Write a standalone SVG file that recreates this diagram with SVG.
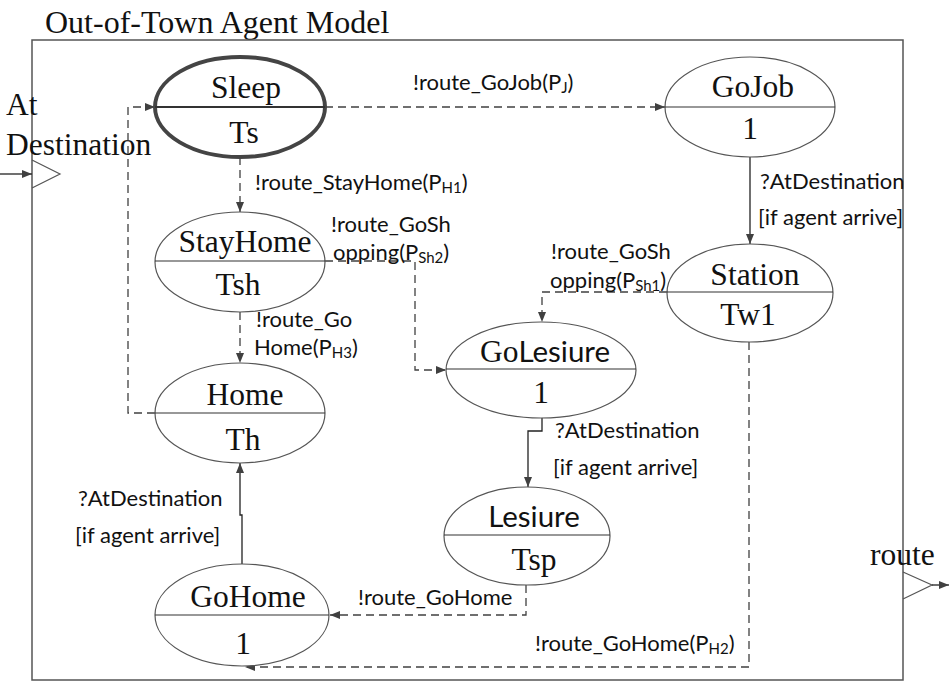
<svg xmlns="http://www.w3.org/2000/svg" width="950" height="682" viewBox="0 0 950 682">
<style>
.serif{font-family:"Liberation Serif","Times New Roman",serif;font-size:31.5px;fill:#111}
.sans{font-family:Lato,"Liberation Sans",sans-serif;font-size:22px;fill:#111}
.node{fill:#fff;stroke:#555;stroke-width:1.2}
.div{stroke:#333;stroke-width:1.2}
.dash{fill:none;stroke:#404040;stroke-width:1.3;stroke-dasharray:8 5}
.solid{fill:none;stroke:#222;stroke-width:1.3}
.sub{font-size:15px}
</style>
<defs>
<marker id="ah" markerUnits="userSpaceOnUse" markerWidth="10" markerHeight="8" refX="10" refY="4" orient="auto">
<path d="M0,0 L10,4 L0,8 z" fill="#404040"/>
</marker>
</defs>
<rect width="950" height="682" fill="#fff"/>
<text class="serif" x="45" y="33" style="font-size:32px">Out-of-Town Agent Model</text>
<rect x="32" y="40" width="871" height="640" fill="none" stroke="#555" stroke-width="1.5"/>
<g id="port-in">
<text class="serif" x="6" y="115">At</text>
<text class="serif" x="6" y="155">Destination</text>
<path d="M32,160 L60,174 L32,188" fill="none" stroke="#555" stroke-width="1.2"/>
</g>
<g id="port-out">
<text class="serif" x="870" y="565">route</text>
<path d="M903,572 L932,585 L903,599" fill="none" stroke="#555" stroke-width="1.2"/>
</g>
<g id="connectors">
<path class="solid" d="M0,174 H32" marker-end="url(#ah)"/>
<path class="solid" d="M932,585 H949" marker-end="url(#ah)"/>
<path class="dash" d="M325,107 H665" marker-end="url(#ah)"/>
<path class="dash" d="M240,157 V212" marker-end="url(#ah)"/>
<path class="dash" d="M240,312 V363" marker-end="url(#ah)"/>
<path class="dash" d="M325,261 H415 V370 H446" marker-end="url(#ah)"/>
<path class="dash" d="M155,413 H128 V107 H155" marker-end="url(#ah)"/>
<path class="solid" d="M750,157 V244" marker-end="url(#ah)"/>
<path class="dash" d="M667,292 H542 V322" marker-end="url(#ah)"/>
<path class="solid" d="M542,417 V431 H528 V487" marker-end="url(#ah)"/>
<path class="dash" d="M526,585 V615 H330" marker-end="url(#ah)"/>
<path class="dash" d="M749,342 V667 H245" marker-end="url(#ah)"/>
<path class="solid" d="M242,564 V515 H240 V463" marker-end="url(#ah)"/>
<text class="sans" x="413" y="90">!route_GoJob(P<tspan class="sub" dy="3">J</tspan><tspan dy="-3">)</tspan></text>
<text class="sans" x="255" y="190">!route_StayHome(P<tspan class="sub" dy="3">H1</tspan><tspan dy="-3">)</tspan></text>
<text class="sans" x="331" y="232">!route_GoSh</text>
<text class="sans" x="333" y="260">opping(P<tspan class="sub" dy="3">Sh2</tspan><tspan dy="-3">)</tspan></text>
<text class="sans" x="256" y="327">!route_Go</text>
<text class="sans" x="254" y="355">Home(P<tspan class="sub" dy="3">H3</tspan><tspan dy="-3">)</tspan></text>
<text class="sans" x="760" y="189">?AtDestination</text>
<text class="sans" x="758" y="225">[if agent arrive]</text>
<text class="sans" x="551" y="259">!route_GoSh</text>
<text class="sans" x="550" y="288">opping(P<tspan class="sub" dy="3">Sh1</tspan><tspan dy="-3">)</tspan></text>
<text class="sans" x="555" y="438">?AtDestination</text>
<text class="sans" x="553" y="475">[if agent arrive]</text>
<text class="sans" x="78" y="506">?AtDestination</text>
<text class="sans" x="75" y="543">[if agent arrive]</text>
<text class="sans" x="358" y="605">!route_GoHome</text>
<text class="sans" x="535" y="651">!route_GoHome(P<tspan class="sub" dy="3">H2</tspan><tspan dy="-3">)</tspan></text>
</g>
<g id="sleep">
<ellipse cx="240" cy="107" rx="85" ry="50" fill="#fff" stroke="#444" stroke-width="4"/>
<line x1="155" y1="107" x2="325" y2="107" stroke="#333" stroke-width="2"/>
<text class="serif" x="246" y="98" text-anchor="middle">Sleep</text>
<text class="serif" x="244" y="143" text-anchor="middle">Ts</text>
</g>
<g id="gojob">
<ellipse class="node" cx="750" cy="107" rx="85" ry="50"/>
<line class="div" x1="665" y1="107" x2="835" y2="107"/>
<text class="serif" x="753" y="97" text-anchor="middle">GoJob</text>
<text class="serif" x="750" y="139" text-anchor="middle">1</text>
</g>
<g id="stayhome">
<ellipse class="node" cx="240" cy="262" rx="85" ry="50"/>
<line class="div" x1="155" y1="261" x2="325" y2="261"/>
<text class="serif" x="245" y="252" text-anchor="middle">StayHome</text>
<text class="serif" x="238" y="295" text-anchor="middle">Tsh</text>
</g>
<g id="station">
<ellipse class="node" cx="750" cy="293" rx="83" ry="49"/>
<line class="div" x1="667" y1="292" x2="833" y2="292"/>
<text class="serif" x="755" y="285" text-anchor="middle">Station</text>
<text class="serif" x="748" y="325" text-anchor="middle">Tw1</text>
</g>
<g id="home">
<ellipse class="node" cx="240" cy="413" rx="85" ry="50"/>
<line class="div" x1="155" y1="413" x2="325" y2="413"/>
<text class="serif" x="245" y="405" text-anchor="middle">Home</text>
<text class="serif" x="243" y="450" text-anchor="middle">Th</text>
</g>
<g id="golesiure">
<ellipse class="node" cx="541" cy="370" rx="95" ry="48"/>
<line class="div" x1="446" y1="369" x2="636" y2="369"/>
<text x="545" y="362" text-anchor="middle"><tspan class="serif">Go</tspan><tspan class="sans" style="font-size:29.5px">Lesiure</tspan></text>
<text class="serif" x="541" y="403" text-anchor="middle">1</text>
</g>
<g id="lesiure">
<ellipse class="node" cx="527" cy="536" rx="83" ry="49"/>
<line class="div" x1="444" y1="535" x2="610" y2="535"/>
<text class="sans" x="534" y="527" text-anchor="middle" style="font-size:29.5px">Lesiure</text>
<text class="serif" x="534" y="570" text-anchor="middle">Tsp</text>
</g>
<g id="gohome">
<ellipse class="node" cx="242" cy="615" rx="87" ry="51"/>
<line class="div" x1="155" y1="615" x2="329" y2="615"/>
<text class="serif" x="248" y="607" text-anchor="middle">GoHome</text>
<text class="serif" x="243" y="654" text-anchor="middle">1</text>
</g>
</svg>
